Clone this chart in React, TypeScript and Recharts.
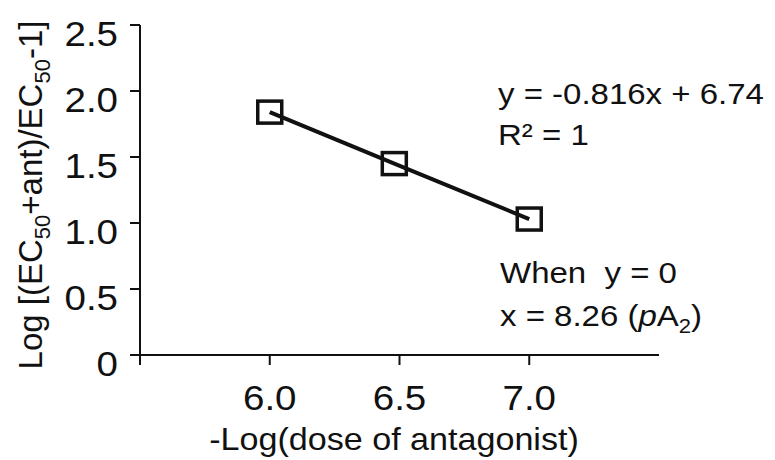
import React from 'react'
import { ScatterChart, Scatter, XAxis, YAxis } from 'recharts'

// -log(dose of antagonist) and log[(EC50+ant)/EC50 - 1]
const doseX = [6.0, 6.48, 7.0]
const logRatio = [1.84, 1.45, 1.03]

const xTicks = [5.5, 6.0, 6.5, 7.0]
const yTicks = [0, 0.5, 1.0, 1.5, 2.0, 2.5]

const equationText = 'y = -0.816x + 6.74'
const r2Text = 'R² = 1'
const whenText = 'When\u00a0 y = 0'

const data = doseX.map((x, i) => ({ x, y: logRatio[i] }))

const FONT = '"Liberation Sans", Arial, Helvetica, sans-serif'
const INK = '#111'

const XTick = (props: any) => {
  const { x, y, payload } = props
  if (payload.value === 5.5) return null
  return (
    <text
      transform={`translate(${x},${y + 45}) scale(1.1,1)`}
      textAnchor="middle"
      fontFamily={FONT}
      fontSize={35}
      fill={INK}
    >
      {payload.value.toFixed(1)}
    </text>
  )
}

const YTick = (props: any) => {
  const { x, y, payload } = props
  const label = payload.value === 0 ? '0' : payload.value.toFixed(1)
  return (
    <text
      transform={`translate(${x},${y + 21}) scale(1.1,1)`}
      textAnchor="end"
      fontFamily={FONT}
      fontSize={35}
      fill={INK}
    >
      {label}
    </text>
  )
}

const OpenSquare = (props: any) => {
  const { cx, cy } = props
  return (
    <rect x={cx - 12} y={cy - 11} width={24} height={22} fill="none" stroke={INK} strokeWidth={3.5} />
  )
}

const Note = ({ x, y, children }: { x: number; y: number; children: React.ReactNode }) => (
  <text transform={`translate(${x},${y}) scale(1.1,1)`} fontFamily={FONT} fontSize={30} fill={INK}>
    {children}
  </text>
)

export default function App() {
  return (
    <div style={{ position: 'absolute', left: 0, top: 0, background: '#fff' }}>
      <ScatterChart width={775} height={460} margin={{ top: 25, right: 116, bottom: 45, left: 0 }}>
        <XAxis
          type="number"
          dataKey="x"
          domain={[5.5, 7.5]}
          ticks={xTicks}
          tick={<XTick />}
          tickSize={10}
          tickMargin={0}
          height={60}
          axisLine={{ stroke: INK, strokeWidth: 2 }}
          tickLine={{ stroke: INK, strokeWidth: 2 }}
        />
        <YAxis
          type="number"
          dataKey="y"
          domain={[0, 2.5]}
          ticks={yTicks}
          tick={<YTick />}
          tickSize={10}
          tickMargin={12}
          width={140}
          axisLine={{ stroke: INK, strokeWidth: 2 }}
          tickLine={{ stroke: INK, strokeWidth: 2 }}
        />
        <Scatter
          data={data}
          line={{ stroke: INK, strokeWidth: 4 }}
          shape={<OpenSquare />}
          isAnimationActive={false}
        />

        <text
          transform="translate(42,195) rotate(-90)"
          textAnchor="middle"
          fontFamily={FONT}
          fontSize={33}
          fill={INK}
        >
          Log [(EC
          <tspan dy={8} fontSize={22}>50</tspan>
          <tspan dy={-8}>+ant)/EC</tspan>
          <tspan dy={8} fontSize={22}>50</tspan>
          <tspan dy={-8}>-1]</tspan>
        </text>

        <text
          transform="translate(394,450) scale(1.1,1)"
          textAnchor="middle"
          fontFamily={FONT}
          fontSize={31}
          fill={INK}
        >
          -Log(dose of antagonist)
        </text>

        <Note x={498} y={104}>{equationText}</Note>
        <Note x={498} y={145}>{r2Text}</Note>
        <Note x={500} y={283}>{whenText}</Note>
        <Note x={500} y={326}>
          x = 8.26 (<tspan fontStyle="italic">p</tspan>A
          <tspan dy={7} fontSize={20}>2</tspan>
          <tspan dy={-7}>)</tspan>
        </Note>
      </ScatterChart>
    </div>
  )
}
